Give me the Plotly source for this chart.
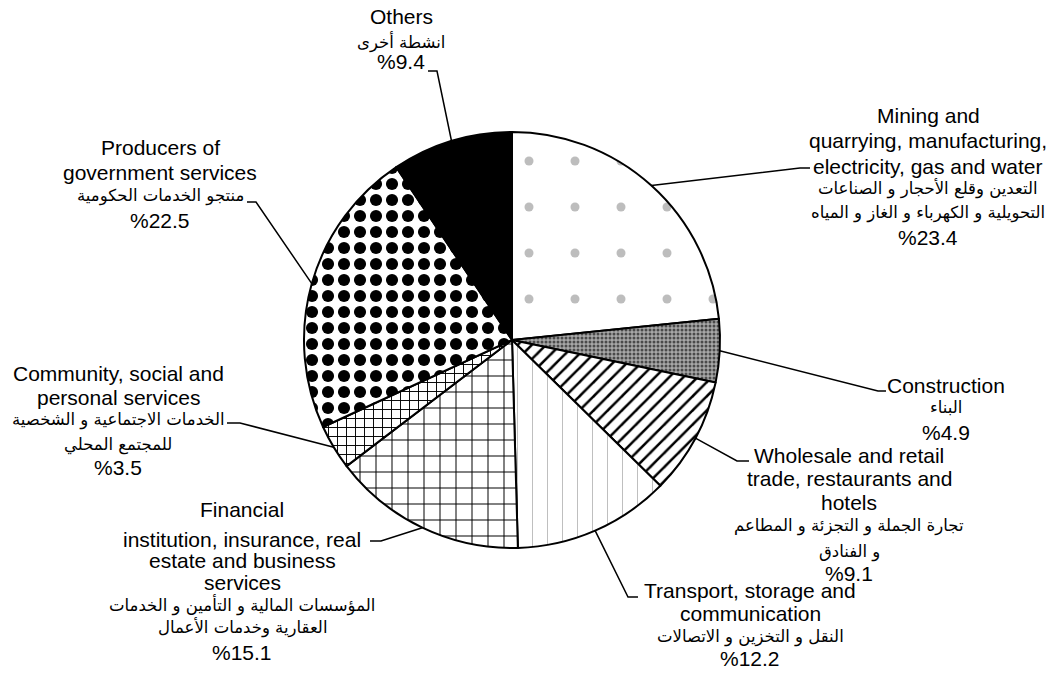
import math
import plotly.graph_objects as go

# ---------------- data ----------------
sectors_en = [
    ["Mining and", "quarrying, manufacturing,", "electricity, gas and water"],
    ["Construction"],
    ["Wholesale and retail", "trade, restaurants and", "hotels"],
    ["Transport, storage and", "communication"],
    ["Financial", "institution, insurance, real", "estate and business", "services"],
    ["Community, social and", "personal services"],
    ["Producers of", "government services"],
    ["Others"],
]
sectors_ar = [
    ["التعدين وقلع الأحجار و الصناعات", "التحويلية و الكهرباء و الغاز و المياه"],
    ["البناء"],
    ["تجارة الجملة و التجزئة و المطاعم", "و الفنادق"],
    ["النقل و التخزين و الاتصالات"],
    ["المؤسسات المالية و التأمين و الخدمات", "العقارية وخدمات الأعمال"],
    ["الخدمات الاجتماعية و الشخصية", "للمجتمع المحلي"],
    ["منتجو الخدمات الحكومية"],
    ["انشطة أخرى"],
]
shares = [23.4, 4.9, 9.1, 12.2, 15.1, 3.5, 22.5, 9.4]

# ---------------- layout / style ----------------
W, H = 1051, 677
CX, CY, R = 512, 340, 208

# fill styles per slice
bg = ["#ffffff", "#a8a8a8", "#ffffff", "#ffffff", "#ffffff", "#ffffff", "#ffffff", "#000000"]
fg = ["#bdbdbd", "#4a4a4a", "#000000", "#b8b8b8", "#000000", "#000000", "#000000", "#000000"]
shape = [".", ".", "/", "|", "+", "+", ".", ""]
psize = [46, 4, 10, 15, 16, 9, 16, 8]
solid = [0.03, 0.45, 0.25, 0.06, 0.12, 0.2, 0.45, 0.3]

# label block placement (pixels): centre x, line y's
blocks = [
    dict(cx=928, ys=[115, 140, 166, 188, 213, 237], leader=[(800, 168), (810, 168)]),
    dict(cx=946, ys=[385, 407, 432], leader=[(878, 391), (886, 391)]),
    dict(cx=849, ys=[455, 478, 502, 526, 552, 573], leader=[(737, 461), (749, 461)]),
    dict(cx=750, ys=[590, 613, 637, 658], leader=[(628, 597), (638, 597)]),
    dict(cx=242, ys=[510, 539, 560, 582, 605, 627, 652], leader=[(381, 541), (370, 541)]),
    dict(cx=118, ys=[373, 397, 420, 445, 468], leader=[(240, 423), (227, 423)]),
    dict(cx=160, ys=[148, 172, 196, 220], leader=[(256, 202), (247, 202)]),
    dict(cx=401, ys=[17, 42, 62], leader=[(437, 71), (428, 71)]),
]

EN_FONT = dict(family="Liberation Sans, Arial", size=21, color="black")
AR_FONT = dict(family="DejaVu Sans", size=16.5, color="black")


def px_to_paper(x, y):
    return x / W, 1 - y / H


fig = go.Figure()
fig.add_trace(go.Pie(
    values=shares,
    labels=[" ".join(s) for s in sectors_en],
    sort=False,
    direction="clockwise",
    rotation=0,
    textinfo="none",
    hoverinfo="label+value",
    showlegend=False,
    domain=dict(x=[(CX - R) / W, (CX + R) / W], y=[1 - (CY + R) / H, 1 - (CY - R) / H]),
    marker=dict(
        colors=bg,
        line=dict(color="black", width=2),
        pattern=dict(shape=shape, fgcolor=fg, bgcolor=bg, size=psize,
                     solidity=solid, fillmode="replace"),
    ),
))

total = sum(shares)
annotations = []
shapes = []
cum = 0.0
for i, v in enumerate(shares):
    mid = (cum + v / 2) / total * 2 * math.pi
    cum += v
    ex = CX + R * math.sin(mid)
    ey = CY - R * math.cos(mid)
    pts = [(ex, ey)] + blocks[i]["leader"]
    path = "M " + " L ".join("{:.5f},{:.5f}".format(*px_to_paper(x, y)) for x, y in pts)
    shapes.append(dict(type="path", path=path, xref="paper", yref="paper",
                       line=dict(color="black", width=1.5)))

    lines = [(t, EN_FONT) for t in sectors_en[i]] + \
            [(t, AR_FONT) for t in sectors_ar[i]] + \
            [("%" + str(v), EN_FONT)]
    for (t, f), y in zip(lines, blocks[i]["ys"]):
        xp, yp = px_to_paper(blocks[i]["cx"], y)
        annotations.append(dict(text=t, x=xp, y=yp, xref="paper", yref="paper",
                                xanchor="center", yanchor="middle", showarrow=False,
                                font=f))

fig.update_layout(
    width=W, height=H,
    margin=dict(l=0, r=0, t=0, b=0),
    paper_bgcolor="white",
    plot_bgcolor="white",
    annotations=annotations,
    shapes=shapes,
)

fig.write_html("out.html",
               config={"displayModeBar": False},
               post_script="document.body.style.margin='0';document.body.style.overflow='hidden';")
